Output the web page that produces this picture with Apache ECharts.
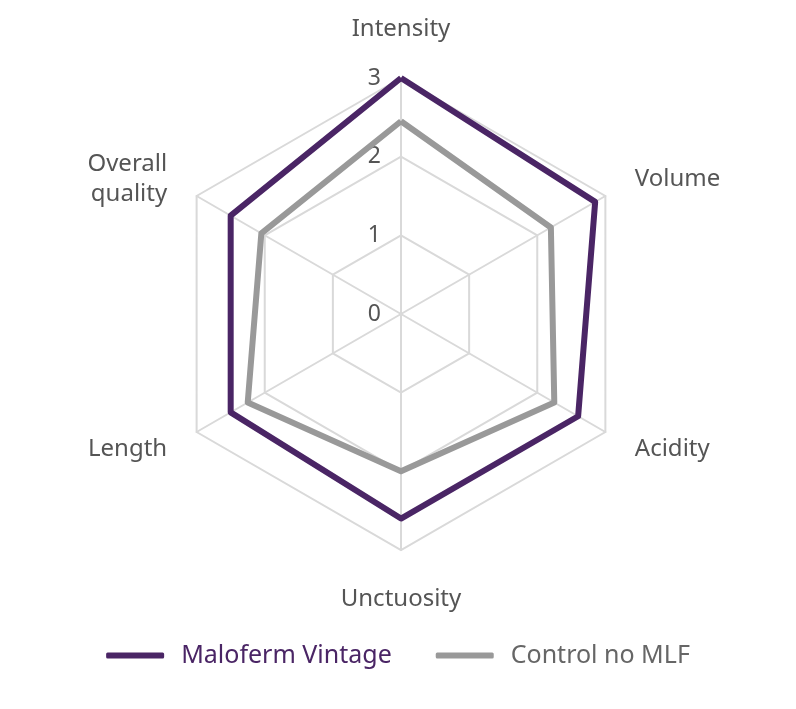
<!DOCTYPE html>
<html><head><meta charset="utf-8">
<script src="https://cdn.jsdelivr.net/npm/echarts@6/dist/echarts.min.js"></script>
<style>html,body{margin:0;background:#fff}#c{width:796px;height:709px}</style>
</head><body><div id="c"></div>
<script>
// order as drawn by ECharts (counter-clockwise from top)
const indicators = ['Intensity','Overall\nquality','Length','Unctuosity','Acidity','Volume'];
const maloferm = [3, 2.5, 2.5, 2.6, 2.6, 2.85];
const control = [2.45, 2.05, 2.25, 2.0, 2.25, 2.2];
const seriesNames = ['Maloferm Vintage','Control no MLF'];
const chart = echarts.init(document.getElementById('c'));
const font = 'Noto Sans';
chart.setOption({
  animation:false,
  legend:{bottom:36,left:'center',itemWidth:58,itemHeight:6,itemGap:44,icon:'roundRect',
    textStyle:{fontSize:25,fontFamily:font,padding:[0,0,0,12]},
    data:[{name:seriesNames[0],textStyle:{color:'#4a2565'}},{name:seriesNames[1],textStyle:{color:'#666'}}]},
  radar:{center:[401,314],radius:236,startAngle:90,splitNumber:3,shape:'polygon',nameGap:34,
    axisName:{color:'#555',fontSize:24,fontFamily:font,lineHeight:30},
    splitLine:{lineStyle:{color:'#d9d9d9',width:2}},splitArea:{show:false},
    axisLine:{lineStyle:{color:'#d9d9d9',width:2}},
    axisLabel:{show:false},
    indicator:indicators.map((n,i)=>({name:n,min:0,max:3,
      axisLabel: i===0?{show:true,color:'#555',fontSize:23,fontFamily:font,margin:20}:{show:false}}))
  },
  series:[{type:'radar',symbol:'none',data:[
    {name:seriesNames[0],value:maloferm,lineStyle:{color:'#4a2565',width:6},itemStyle:{color:'#4a2565'}},
    {name:seriesNames[1],value:control,lineStyle:{color:'#999',width:6},itemStyle:{color:'#999'}}
  ]}]
});
</script></body></html>
